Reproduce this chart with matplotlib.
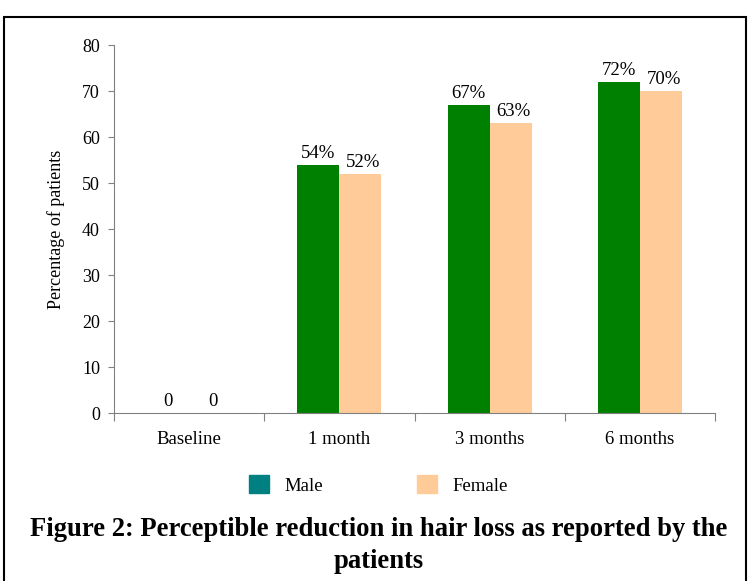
import matplotlib; matplotlib.use("Agg")
import matplotlib.pyplot as plt
from matplotlib.patches import Rectangle, Patch
import numpy as np

categories = ["Baseline", "1 month", "3 months", "6 months"]
male = [0, 54, 67, 72]
female = [0, 52, 63, 70]
male_labels = ["0", "54%", "67%", "72%"]
female_labels = ["0", "52%", "63%", "70%"]

plt.rcParams["font.family"] = ["Liberation Serif", "DejaVu Serif"]

fig = plt.figure(figsize=(7.49, 5.81), dpi=100)
ax = fig.add_axes([0.152, 0.289, 0.803, 0.6335])

x = np.arange(len(categories))
w = 0.28
ax.bar(x - w/2, male, w, color="#008000")
ax.bar(x + w/2, female, w, color="#FFCC99")
for i in range(len(categories)):
    ax.text(x[i] - w/2, male[i] + 0.6, male_labels[i], ha="center", va="bottom", fontsize=13.5)
    ax.text(x[i] + w/2 + 0.02, female[i] + 0.6, female_labels[i], ha="center", va="bottom", fontsize=13.5)

ax.set_xlim(-0.5, len(categories) - 0.5)
ax.set_ylim(0, 80)
ax.set_yticks(range(0, 81, 10))
ax.set_xticks(np.arange(-0.5, len(categories), 1.0))
ax.set_xticklabels([])
ax.set_xticks(x, minor=True)
ax.set_xticklabels(categories, minor=True, fontsize=13.5)
ax.tick_params(axis="x", which="minor", length=0, pad=13)
ax.tick_params(axis="x", which="major", length=6, color="#808080", direction="out")
ax.tick_params(axis="y", length=4, color="#808080", labelsize=13, pad=6)
for s in ["top", "right"]:
    ax.spines[s].set_visible(False)
for s in ["left", "bottom"]:
    ax.spines[s].set_color("#808080")
ax.set_ylabel("Percentage of patients", fontsize=13, labelpad=12)

handles = [Patch(color="#008080", label="Male"), Patch(color="#FFCC99", label="Female")]
fig.legend(handles=handles, loc="center", bbox_to_anchor=(0.505, 0.165), ncol=2, frameon=False,
           fontsize=13.5, handlelength=1.1, handleheight=1.1, columnspacing=5.0, handletextpad=0.8)

fig.text(0.505, 1 - 530/581, "Figure 2: Perceptible reduction in hair loss as reported by the",
         ha="center", va="center", fontsize=19.2, fontweight="bold")
fig.text(0.505, 1 - 562/581, "patients",
         ha="center", va="center", fontsize=19.2, fontweight="bold")

fig.patches.append(Rectangle((4/749, -0.05), 742/749, 1.05 - 17/581, transform=fig.transFigure,
                             fill=False, edgecolor="black", linewidth=1.5))

fig.savefig("out.png", dpi=100)
